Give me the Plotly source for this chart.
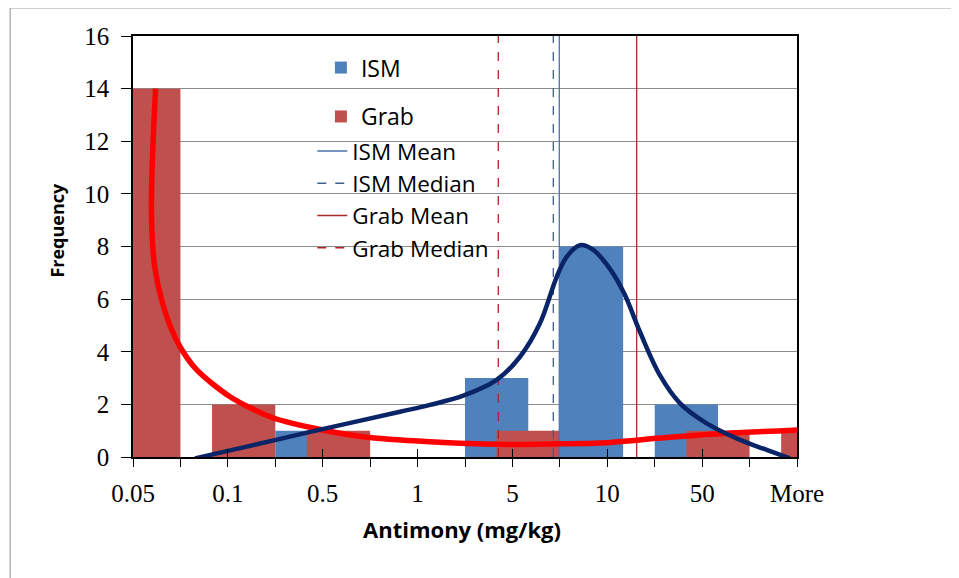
import plotly.graph_objects as go

# ---- data ----
bins = ["0.05", "0.1", "0.5", "1", "5", "10", "50", "More"]
bin_pos = [0, 1, 2, 3, 4, 5, 6, 7]
ism_counts = [0, 0, 1, 0, 3, 8, 2, 0]
grab_counts = [14, 2, 1, 0, 1, 0, 1, 1]

# summary statistics (position on the bin axis)
ism_mean = 4.494
ism_median = 4.431
grab_mean = 5.310
grab_median = 3.851

# fitted distribution curves (bin-axis position, frequency)
ism_curve_x = [0.654, 1.507, 1.961, 2.815, 3.131, 3.482, 3.834, 4.08, 4.29, 4.467,
               4.572, 4.712, 4.852, 5.028, 5.18, 5.345, 5.556, 5.767, 6.048, 6.4, 6.68, 6.925]
ism_curve_y = [-0.05, 0.65, 1.03, 1.72, 1.98, 2.33, 2.93, 3.81, 5.08, 6.85,
               7.61, 8.05, 7.87, 7.15, 6.2, 4.75, 3.1, 2.04, 1.28, 0.65, 0.27, -0.05]
grab_curve_x = [0.238, 0.212, 0.195, 0.2, 0.23, 0.30, 0.40, 0.495, 0.672, 1.023, 1.444,
                1.898, 2.425, 3.131, 3.869, 4.5, 4.923, 5.556, 5.977, 7.0]
grab_curve_y = [14.0, 12.0, 10.0, 8.5, 7.2, 6.0, 4.9, 4.19, 3.31, 2.29, 1.53,
                1.10, 0.77, 0.58, 0.48, 0.5, 0.53, 0.72, 0.84, 1.03]

y_max = 16

ISM_COLOR = "#4F81BD"
GRAB_COLOR = "#C0504D"

fig = go.Figure()

fig.add_trace(go.Bar(x=bin_pos, y=ism_counts, name="ISM", marker_color=ISM_COLOR,
                     offset=-0.5, width=0.667, legend="legend", legendgroup="a",
                     marker_line_width=0))
fig.add_trace(go.Bar(x=bin_pos, y=grab_counts, name="Grab", marker_color=GRAB_COLOR,
                     offset=-0.167, width=0.667, legend="legend", legendgroup="b",
                     marker_line_width=0))

lines = [
    ("ISM Mean", ism_mean, "#4A72AA", "solid", "c"),
    ("ISM Median", ism_median, "#3F5F8F", "dash", "d"),
    ("Grab Mean", grab_mean, "#A52A2A", "solid", "e"),
    ("Grab Median", grab_median, "#B0202A", "dash", "f"),
]
for name, xv, col, dash, grp in lines:
    fig.add_trace(go.Scatter(x=[xv, xv], y=[0, y_max], mode="lines", name=name,
                             line=dict(color=col, width=1.3, dash=dash),
                             legend="legend2", legendgroup=grp))

fig.add_trace(go.Scatter(x=grab_curve_x, y=grab_curve_y, mode="lines", showlegend=False,
                         line=dict(color="#FF0000", width=5.5, shape="spline", smoothing=0.8)))
fig.add_trace(go.Scatter(x=ism_curve_x, y=ism_curve_y, mode="lines", showlegend=False,
                         line=dict(color="#0A2468", width=4.5, shape="spline", smoothing=1.0)))

# helper trace for overlay axis carrying the inside tick marks
fig.add_trace(go.Scatter(x=[0], y=[0], xaxis="x2", mode="markers", showlegend=False,
                         marker=dict(opacity=0), hoverinfo="skip"))

tick_font = dict(family="Liberation Serif", size=25, color="black")

fig.update_layout(
    width=951, height=570,
    margin=dict(l=125, r=162, t=28, b=121),
    paper_bgcolor="white", plot_bgcolor="white",
    barmode="overlay",
    showlegend=True,
    xaxis=dict(range=[0, 7], tickvals=bin_pos, ticktext=bins, tickfont=tick_font,
               ticks="outside", ticklen=8, tickcolor="black", tickwidth=1.3,
               minor=dict(ticks="outside", dtick=0.5, tick0=0, ticklen=8,
                          tickcolor="black", tickwidth=1.3, showgrid=False),
               showline=True, linecolor="black", linewidth=1.5, mirror=True,
               showgrid=False, zeroline=False, ticklabelstandoff=5),
    xaxis2=dict(range=[0, 7], overlaying="x", anchor="y", side="bottom",
                tickvals=bin_pos, ticks="inside", ticklen=8, tickcolor="black",
                tickwidth=1.3, showticklabels=False, showgrid=False, showline=False,
                zeroline=False),
    yaxis=dict(range=[0, y_max], dtick=2, tickfont=tick_font,
               ticks="outside", ticklen=10, tickcolor="black", tickwidth=1.3,
               showline=True, linecolor="black", linewidth=1.5, mirror=True,
               showgrid=True, gridcolor="#8C8C8C", gridwidth=1.2, zeroline=False,
               ticklabelstandoff=7),
    legend=dict(x=0.283, y=0.976, xanchor="left", yanchor="top",
                bgcolor="rgba(0,0,0,0)", font=dict(family="Open Sans", size=23, color="black"),
                traceorder="grouped", tracegroupgap=16, itemclick=False),
    legend2=dict(x=0.270, y=0.777, xanchor="left", yanchor="top",
                 bgcolor="rgba(0,0,0,0)", font=dict(family="Open Sans", size=22.5, color="black"),
                 traceorder="grouped", tracegroupgap=0, itemclick=False),
    annotations=[
        dict(text="<b>Frequency</b>", xref="paper", yref="paper", x=-0.1137, y=0.539,
             textangle=-90, showarrow=False, xanchor="center", yanchor="middle",
             font=dict(family="Open Sans", size=18, color="black")),
        dict(text="<b>Antimony (mg/kg)</b>", xref="paper", yref="paper", x=0.4955, y=-0.171,
             showarrow=False, xanchor="center", yanchor="middle",
             font=dict(family="Open Sans", size=22, color="black")),
    ],
    shapes=[
        dict(type="rect", xref="paper", yref="paper", x0=-0.185, y0=-0.6, x1=1.5, y1=1.0665,
             line=dict(color="#A0A0A0", width=1.2), fillcolor="rgba(0,0,0,0)", layer="below"),
    ],
)

fig.write_html("out.html")
